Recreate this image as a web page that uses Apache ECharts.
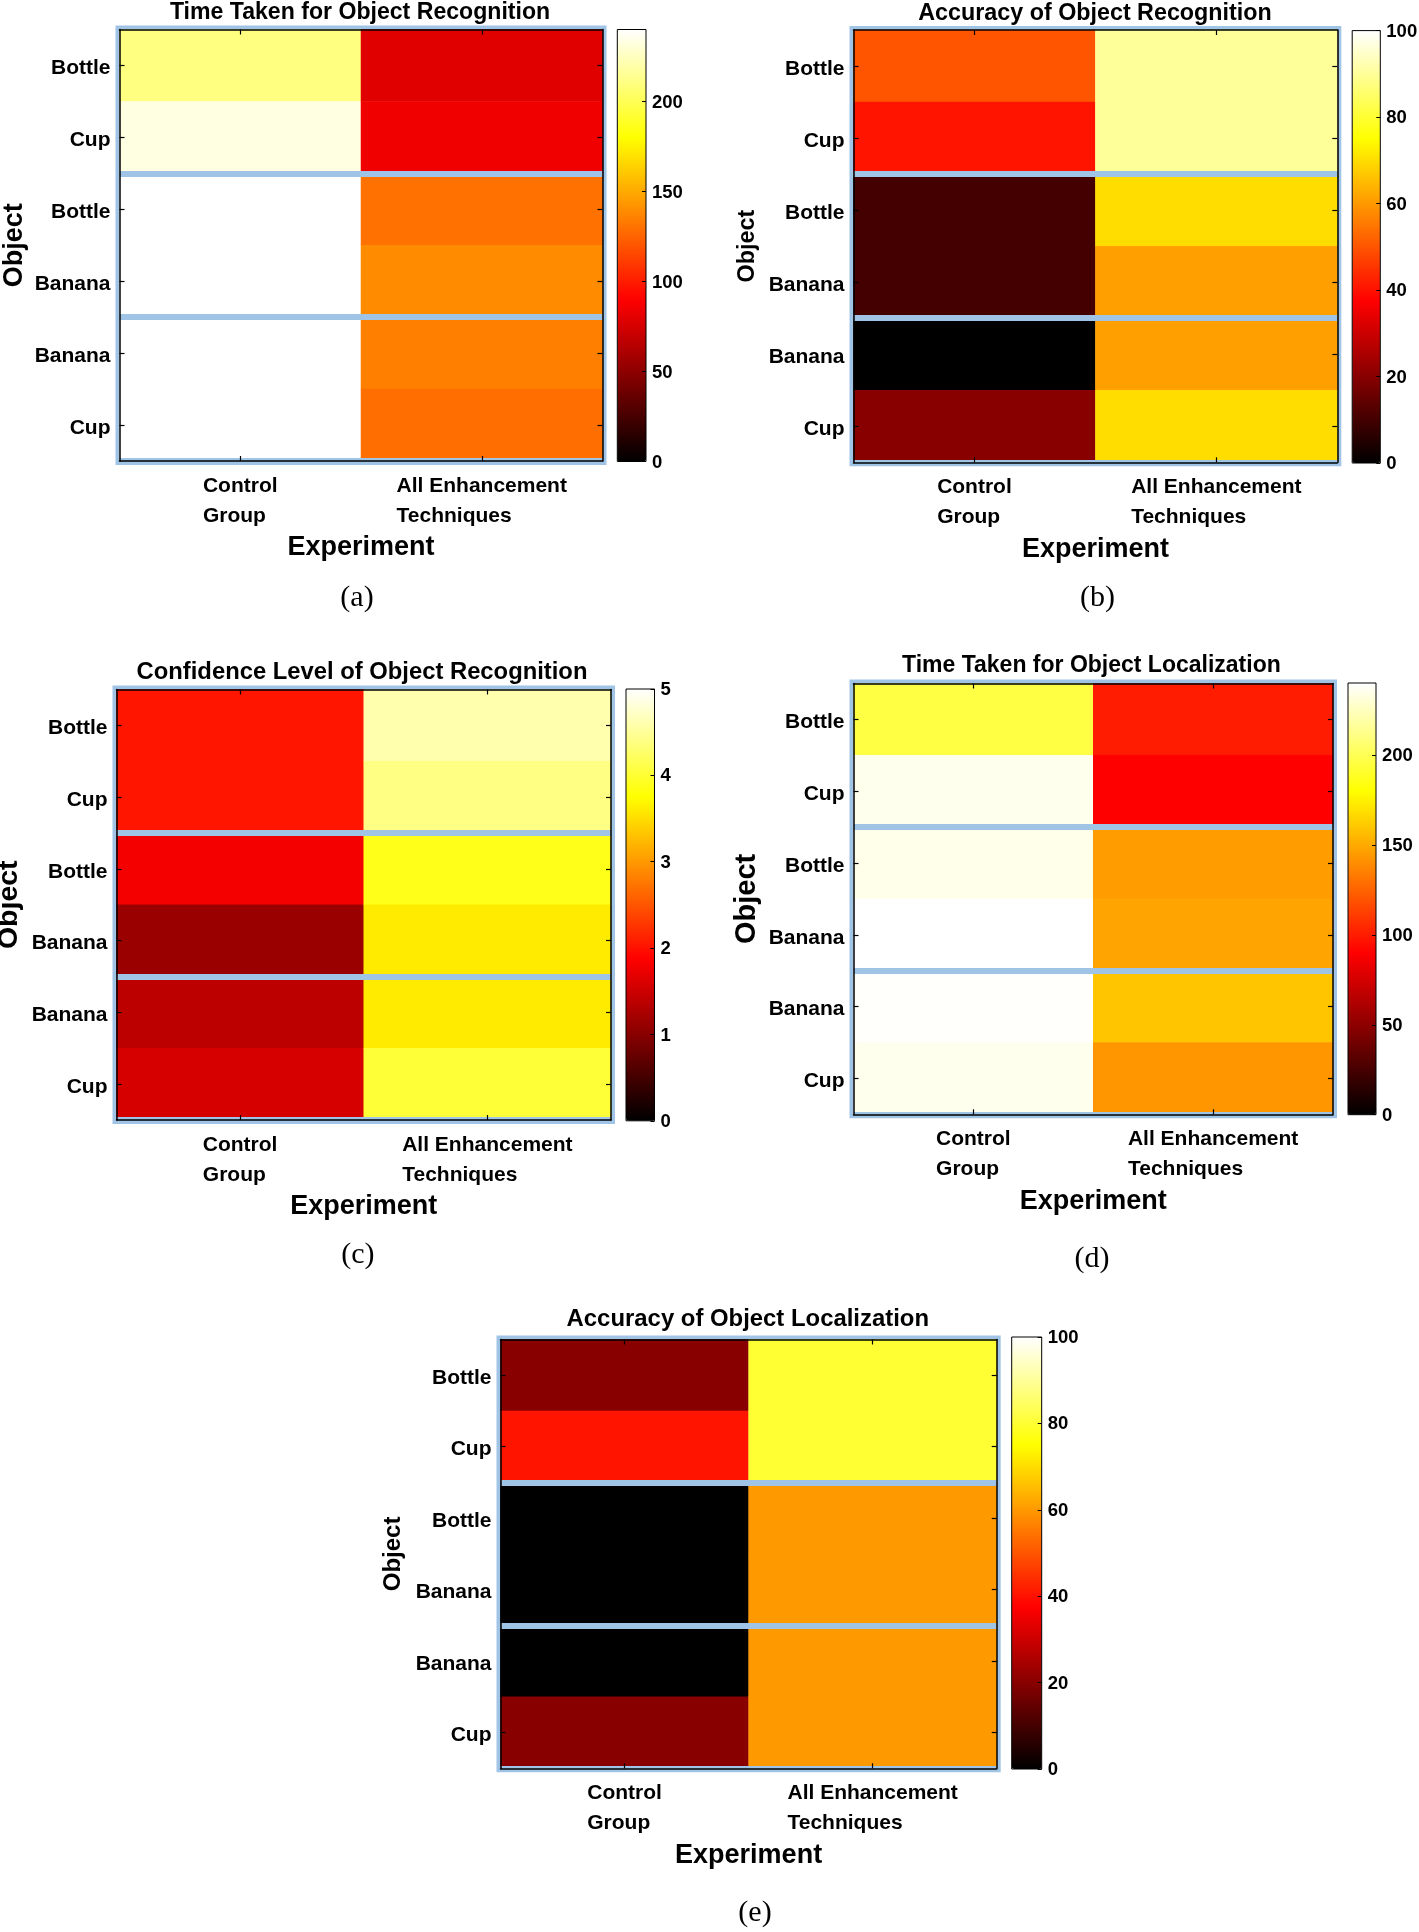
<!DOCTYPE html>
<html><head><meta charset="utf-8">
<script src="https://cdn.jsdelivr.net/npm/echarts@6/dist/echarts.min.js"></script>
<style>html,body{margin:0;padding:0;background:#fff}#chart{width:1419px;height:1932px}</style>
</head><body><div id="chart"></div>
<script>
// ---------- data ----------
const objects = ['Bottle', 'Cup', 'Bottle', 'Banana', 'Banana', 'Cup'];
const experiments = ['Control\nGroup', 'All Enhancement\nTechniques'];
const groupSize = 2;

const recogTimeControl   = [210, 233, 240, 240, 240, 240];
const recogTimeEnhanced  = [79, 85, 130, 139, 135, 129];
const recogAccControl    = [50, 40.5, 10, 10, 0, 20];
const recogAccEnhanced   = [90, 90, 70, 61, 61, 70];
const recogConfControl   = [2.03, 2.03, 1.8, 1.14, 1.38, 1.58];
const recogConfEnhanced  = [4.6, 4.39, 3.87, 3.6, 3.6, 4.02];
const locTimeControl     = [196, 236, 235, 240, 239, 236];
const locTimeEnhanced    = [100, 90, 145, 148, 160, 143];
const locAccControl      = [20, 40.5, 0, 0, 0, 20];
const locAccEnhanced     = [80, 80, 60, 60, 60, 60];

const timeScale = {max: 240, interval: 50};      // ticks 0,50,...,200
const accScale  = {max: 100, interval: 20};      // ticks 0,20,...,100
const confScale = {max: 5, interval: 1};         // ticks 0,1,...,5

// MATLAB "hot" colormap sampled at t = 0, 1/8, ..., 1
const hot = ['#000000','#550000','#aa0000','#ff0000','#ff5500','#ffaa00','#ffff00','#ffff80','#ffffff'];

const FONT = 'Liberation Sans, Arial, Helvetica, sans-serif';
const BLUE = '#9fc4e6';

const panels = [
  {title:'Time Taken for Object Recognition', ctrl:recogTimeControl, enh:recogTimeEnhanced, scale:timeScale, showMax:false, caption:'(a)',
   plot:[119.5,29.5,602.5,461], bar:[617.3,29.5,646,461.5], titlePos:[360,12.5], titleSize:23.1, nameSize:27, nameOff:105, capPos:[357,598]},
  {title:'Accuracy of Object Recognition', ctrl:recogAccControl, enh:recogAccEnhanced, scale:accScale, showMax:true, caption:'(b)',
   plot:[853.5,30,1337.3,462.3], bar:[1352.2,30.6,1380.3,463], titlePos:[1095,13.5], titleSize:23.3, nameSize:23.4, nameOff:105.5, capPos:[1097.5,598]},
  {title:'Confidence Level of Object Recognition', ctrl:recogConfControl, enh:recogConfEnhanced, scale:confScale, showMax:true, caption:'(c)',
   plot:[116.5,689.5,611,1120], bar:[626,689,654.5,1120.8], titlePos:[362,672], titleSize:23.8, nameSize:28.5, nameOff:107.5, capPos:[357.8,1255]},
  {title:'Time Taken for Object Localization', ctrl:locTimeControl, enh:locTimeEnhanced, scale:timeScale, showMax:false, caption:'(d)',
   plot:[853.5,683.5,1333,1114.3], bar:[1348,683,1376,1114.7], titlePos:[1091.4,666], titleSize:23, nameSize:29, nameOff:106.5, capPos:[1092,1259]},
  {title:'Accuracy of Object Localization', ctrl:locAccControl, enh:locAccEnhanced, scale:accScale, showMax:true, caption:'(e)',
   plot:[500.5,1339.5,996.7,1768.3], bar:[1011.7,1337,1041.7,1769], titlePos:[747.8,1319.5], titleSize:23.9, nameSize:24, nameOff:107.5, capPos:[755,1913]}
];

const option = {backgroundColor:'#ffffff', animation:false, title:[], grid:[], xAxis:[], yAxis:[], visualMap:[], series:[]};

const blackLine = {onZero:false, lineStyle:{color:'#000', width:1.5}};
const inTick = {show:true, inside:true, alignWithLabel:true, length:5, lineStyle:{color:'#000', width:1.2}};

panels.forEach((p, k) => {
  const [x0, y0, x1, y1] = p.plot;
  const gi = option.grid.length;
  option.grid.push({left:x0, top:y0, width:x1-x0, height:y1-y0, show:true, borderColor:BLUE, borderWidth:8,
    backgroundColor:'transparent', z:0, containLabel:false, outerBoundsMode:'none'});

  const xb = option.xAxis.length;
  option.xAxis.push({gridIndex:gi, type:'category', data:experiments, position:'bottom', z:4,
    axisLine:blackLine, axisTick:inTick, splitLine:{show:false},
    axisLabel:{margin:10, interval:0,
      formatter:(v) => v.split('\n').map(s => '{l|' + s + '}').join('\n'),
      rich:{l:{align:'left', fontFamily:FONT, fontWeight:'bold', fontSize:21, lineHeight:30, color:'#000'}}},
    name:'Experiment', nameLocation:'middle', nameGap:72,
    nameTextStyle:{fontFamily:FONT, fontWeight:'bold', fontSize:27, lineHeight:30, color:'#000'}});
  option.xAxis.push({gridIndex:gi, type:'category', data:experiments, position:'top', z:4,
    axisLine:blackLine, axisTick:inTick, axisLabel:{show:false}, splitLine:{show:false}});

  const yl = option.yAxis.length;
  option.yAxis.push({gridIndex:gi, type:'category', data:objects, inverse:true, position:'left', z:4,
    axisLine:blackLine, axisTick:inTick, splitLine:{show:false},
    axisLabel:{margin:9, interval:0, formatter:(v) => '{o|' + v + '}',
      rich:{o:{fontFamily:FONT, fontWeight:'bold', fontSize:21, color:'#000', lineHeight:24, padding:[6,0,0,0]}}},
    name:'Object', nameLocation:'middle', nameGap:p.nameOff - p.nameSize/2,
    nameTextStyle:{fontFamily:FONT, fontWeight:'bold', fontSize:p.nameSize, lineHeight:p.nameSize, color:'#000'}});
  option.yAxis.push({gridIndex:gi, type:'category', data:objects, inverse:true, position:'right', z:4,
    axisLine:blackLine, axisTick:inTick, axisLabel:{show:false}, splitLine:{show:false}});
  // group separators
  option.yAxis.push({gridIndex:gi, type:'value', min:0, max:objects.length, interval:groupSize, inverse:true, position:'left', z:3,
    axisLine:{show:false, onZero:false}, axisTick:{show:false}, axisLabel:{show:false},
    splitLine:{show:true, showMinLine:false, showMaxLine:true, lineStyle:{color:BLUE, width:6}}});

  const data = [];
  [p.ctrl, p.enh].forEach((vals, c) => vals.forEach((v, r) => data.push([c, r, v])));
  option.series.push({type:'heatmap', xAxisIndex:xb, yAxisIndex:yl, data:data, z:2,
    itemStyle:{borderWidth:0}, emphasis:{disabled:true}, progressive:0});

  // colorbar
  const [bx0, by0, bx1, by1] = p.bar;
  const cg = option.grid.length;
  option.grid.push({left:bx0, top:by0, width:bx1-bx0, height:by1-by0, show:true, borderColor:'#000', borderWidth:1,
    backgroundColor:'transparent', z:10, containLabel:false, outerBoundsMode:'none'});
  option.xAxis.push({gridIndex:cg, type:'category', data:[''], show:false});
  option.yAxis.push({gridIndex:cg, type:'value', min:0, max:p.scale.max, interval:p.scale.interval, position:'right', z:10,
    axisLine:{show:false, onZero:false}, axisTick:{show:true, inside:true, length:4, lineStyle:{color:'#000'}},
    splitLine:{show:false},
    axisLabel:{margin:6, showMaxLabel:p.showMax, showMinLabel:true, formatter:(v) => '{c|' + v + '}',
      rich:{c:{fontFamily:FONT, fontWeight:'bold', fontSize:18.5, color:'#000', lineHeight:21, padding:[2,0,0,0]}}}});
  option.visualMap.push({type:'continuous', min:0, max:p.scale.max, seriesIndex:k, dimension:2, calculable:false, show:true,
    orient:'vertical', left:bx0, top:by0, itemWidth:bx1-bx0, itemHeight:by1-by0, padding:0, text:null,
    inRange:{color:hot}, hoverLink:false, z:5});

  option.title.push({text:p.title, left:p.titlePos[0], top:p.titlePos[1], textAlign:'center', textVerticalAlign:'middle', padding:0,
    textStyle:{fontFamily:FONT, fontWeight:'bold', fontSize:p.titleSize, color:'#000'}});
  option.title.push({text:p.caption, left:p.capPos[0], top:p.capPos[1], textAlign:'center', textVerticalAlign:'middle', padding:0,
    textStyle:{fontFamily:'Liberation Serif, Times New Roman, serif', fontWeight:'normal', fontSize:30, color:'#000'}});
});

const chart = echarts.init(document.getElementById('chart'), null, {renderer:'canvas'});
chart.setOption(option);
</script>
</body></html>
